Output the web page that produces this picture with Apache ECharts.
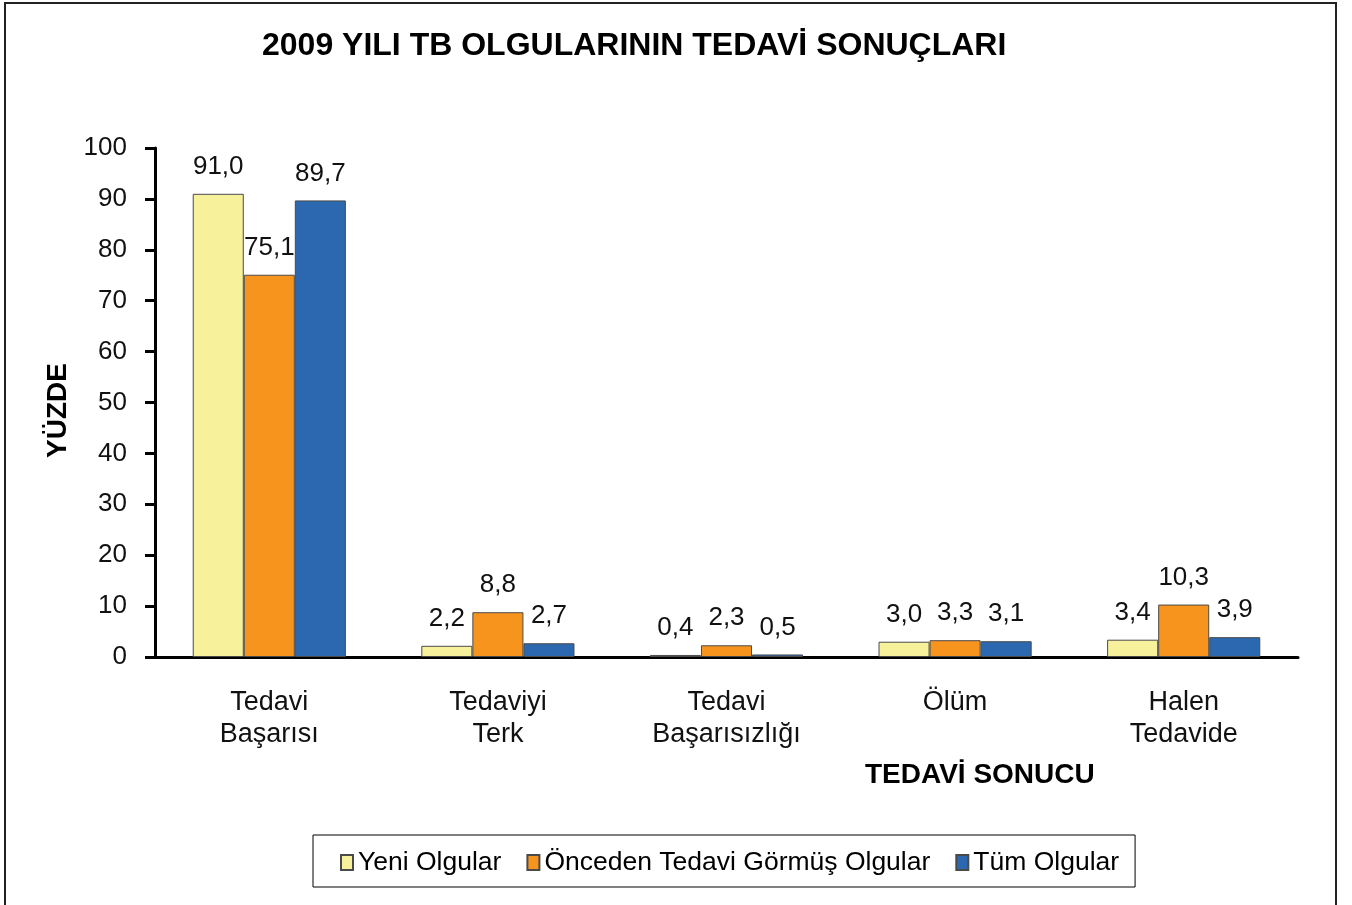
<!DOCTYPE html>
<html>
<head>
<meta charset="utf-8">
<script src="https://cdn.jsdelivr.net/npm/echarts@6/dist/echarts.min.js"></script>
<style>
  html, body { margin: 0; padding: 0; background: #fff; }
  #chart { width: 1352px; height: 905px; }
</style>
</head>
<body>
<div id="chart"></div>
<script>
// kategori ve seri verileri
const categories = ['Tedavi\nBaşarısı', 'Tedaviyi\nTerk', 'Tedavi\nBaşarısızlığı', 'Ölüm', 'Halen\nTedavide'];
const seriesNames = ['Yeni Olgular', 'Önceden Tedavi Görmüş Olgular', 'Tüm Olgular'];
const yeniOlgular = [91.0, 2.2, 0.4, 3.0, 3.4];
const oncedenTedavi = [75.1, 8.8, 2.3, 3.3, 10.3];
const tumOlgular = [89.7, 2.7, 0.5, 3.1, 3.9];
const colors = ['#F7F19B', '#F7941E', '#2B68B0'];

const font = 'Liberation Sans, Arial, sans-serif';
const chart = echarts.init(document.getElementById('chart'));

const fmt = function (p) {
    return p.value.toFixed(1).replace('.', ',');
};

const makeSeries = function (name, data, color) {
    return {
        name: name,
        type: 'bar',
        data: data,
        barGap: '0%',
        barCategoryGap: '33%',
        itemStyle: { color: color, borderColor: '#4a4a4a', borderWidth: 1 },
        label: {
            show: true,
            position: 'top',
            distance: 14,
            formatter: fmt,
            color: '#111',
            fontFamily: font,
            fontSize: 26
        }
    };
};

chart.setOption({
    backgroundColor: '#fff',
    animation: false,
    title: [
        {
            text: '2009 YILI TB OLGULARININ TEDAVİ SONUÇLARI',
            left: 262,
            top: 30,
            padding: 0,
            textStyle: { fontFamily: font, fontSize: 32, fontWeight: 'bold', color: '#000' }
        },
        {
            text: 'TEDAVİ SONUCU',
            left: 865,
            top: 761,
            padding: 0,
            textStyle: { fontFamily: font, fontSize: 28, fontWeight: 'bold', color: '#000' }
        }
    ],
    graphic: [{
        type: 'rect',
        shape: { x: 5, y: 3, width: 1331, height: 960 },
        style: { fill: 'none', stroke: '#222', lineWidth: 2 },
        silent: true
    }],
    legend: {
        data: seriesNames,
        left: 313,
        top: 835,
        padding: [14, 16, 11, 27],
        itemGap: 25,
        itemWidth: 12,
        itemHeight: 15,
        icon: 'rect',
        borderColor: '#000',
        borderWidth: 1,
        textStyle: { fontFamily: font, fontSize: 26.5, color: '#000' }
    },
    grid: {
        left: 155,
        right: 54,
        top: 148,
        bottom: 248
    },
    xAxis: {
        type: 'category',
        data: categories,
        axisLine: { lineStyle: { color: '#000', width: 3 } },
        axisTick: { length: 10, lineStyle: { color: '#000', width: 3 } },
        axisLabel: {
            color: '#111',
            fontFamily: font,
            fontSize: 27,
            lineHeight: 32,
            margin: 30,
            interval: 0
        }
    },
    yAxis: {
        type: 'value',
        min: 0,
        max: 100,
        interval: 10,
        name: 'YÜZDE',
        nameLocation: 'middle',
        nameGap: 83,
        nameTextStyle: { fontFamily: font, fontSize: 28, fontWeight: 'bold', color: '#000', padding: [0, 0, 0, -16] },
        splitLine: { show: false },
        axisLine: { show: true, lineStyle: { color: '#000', width: 3 } },
        axisTick: { show: true, length: 10, lineStyle: { color: '#000', width: 3 } },
        axisLabel: { color: '#111', fontFamily: font, fontSize: 26, margin: 28 }
    },
    series: [
        makeSeries(seriesNames[0], yeniOlgular, colors[0]),
        makeSeries(seriesNames[1], oncedenTedavi, colors[1]),
        makeSeries(seriesNames[2], tumOlgular, colors[2])
    ]
});
</script>
</body>
</html>
